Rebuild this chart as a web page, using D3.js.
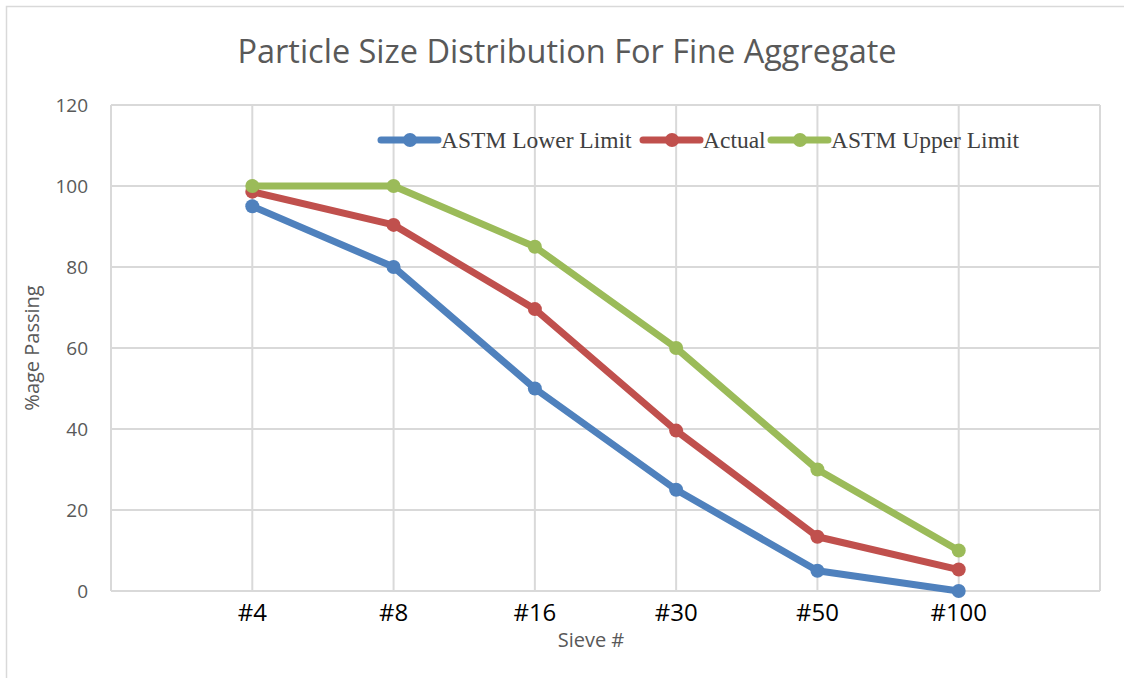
<!DOCTYPE html>
<html>
<head>
<meta charset="utf-8">
<script src="https://cdn.jsdelivr.net/npm/d3@7"></script>
<style>
  body { margin: 0; background: #fff; }
  svg { display: block; }
</style>
</head>
<body>
<svg id="chart" width="1124" height="678"></svg>
<script>
var sieves = ["#4", "#8", "#16", "#30", "#50", "#100"];
var lowerLimit = [95, 80, 50, 25, 5, 0];
var actual = [98.6, 90.4, 69.6, 39.6, 13.4, 5.3];
var upperLimit = [100, 100, 85, 60, 30, 10];
var yTicks = [0, 20, 40, 60, 80, 100, 120];

var series = [
  { name: "ASTM Lower Limit", values: lowerLimit, color: "#4f81bd" },
  { name: "Actual", values: actual, color: "#c0504d" },
  { name: "ASTM Upper Limit", values: upperLimit, color: "#9bbb59" }
];

var svg = d3.select("#chart");

// outer chart frame
svg.append("rect")
  .attr("x", 6.5).attr("y", 6.5)
  .attr("width", 1130).attr("height", 690)
  .attr("fill", "none").attr("stroke", "#d9d9d9").attr("stroke-width", 1.5);

var plotLeft = 111, plotRight = 1100, plotTop = 105, plotBottom = 591;

// one empty slot each side of the categories
var x = d3.scaleLinear().domain([0, sieves.length + 1]).range([plotLeft, plotRight]);
var y = d3.scaleLinear().domain([0, 120]).range([plotBottom, plotTop]);

var grid = svg.append("g");
grid.selectAll("line.h")
  .data(yTicks)
  .enter().append("line")
  .attr("x1", plotLeft).attr("x2", plotRight)
  .attr("y1", function (d) { return y(d); })
  .attr("y2", function (d) { return y(d); })
  .attr("stroke", "#d9d9d9").attr("stroke-width", 2);

grid.selectAll("line.v")
  .data(d3.range(0, sieves.length + 2))
  .enter().append("line")
  .attr("x1", function (d) { return x(d); })
  .attr("x2", function (d) { return x(d); })
  .attr("y1", plotTop).attr("y2", plotBottom)
  .attr("stroke", "#d9d9d9").attr("stroke-width", 2);

// y tick labels
svg.selectAll("text.ytick")
  .data(yTicks)
  .enter().append("text")
  .attr("x", 88)
  .attr("y", function (d) { return y(d) + 7; })
  .attr("text-anchor", "end")
  .attr("font-family", "Open Sans, sans-serif")
  .attr("font-size", 19)
  .attr("fill", "#595959")
  .text(function (d) { return d; });

// x tick labels
svg.selectAll("text.xtick")
  .data(sieves)
  .enter().append("text")
  .attr("x", function (d, i) { return x(i + 1); })
  .attr("y", 621)
  .attr("text-anchor", "middle")
  .attr("font-family", "Open Sans, sans-serif")
  .attr("font-size", 24)
  .attr("fill", "#000")
  .text(function (d) { return d; });

// series lines and markers
var line = d3.line()
  .x(function (d, i) { return x(i + 1); })
  .y(function (d) { return y(d); });

series.forEach(function (s) {
  svg.append("path")
    .datum(s.values)
    .attr("d", line)
    .attr("fill", "none")
    .attr("stroke", s.color)
    .attr("stroke-width", 7)
    .attr("stroke-linejoin", "round")
    .attr("stroke-linecap", "round");

  svg.selectAll(null)
    .data(s.values)
    .enter().append("circle")
    .attr("cx", function (d, i) { return x(i + 1); })
    .attr("cy", function (d) { return y(d); })
    .attr("r", 7)
    .attr("fill", s.color);
});

// title
svg.append("text")
  .attr("x", 567).attr("y", 63)
  .attr("text-anchor", "middle")
  .attr("font-family", "Open Sans, sans-serif")
  .attr("font-size", 33)
  .attr("fill", "#595959")
  .attr("textLength", 659)
  .attr("lengthAdjust", "spacingAndGlyphs")
  .text("Particle Size Distribution For Fine Aggregate");

// axis titles
svg.append("text")
  .attr("x", 591).attr("y", 647)
  .attr("text-anchor", "middle")
  .attr("font-family", "Open Sans, sans-serif")
  .attr("font-size", 20)
  .attr("fill", "#595959")
  .text("Sieve #");

svg.append("text")
  .attr("transform", "translate(39,348) rotate(-90)")
  .attr("text-anchor", "middle")
  .attr("font-family", "Open Sans, sans-serif")
  .attr("font-size", 20)
  .attr("fill", "#595959")
  .text("%age Passing");

// legend
var legendPos = [381, 643, 771];
var legend = svg.selectAll("g.legend")
  .data(series)
  .enter().append("g")
  .attr("transform", function (d, i) { return "translate(" + legendPos[i] + ",140)"; });

legend.append("line")
  .attr("x1", 0).attr("x2", 57)
  .attr("stroke", function (d) { return d.color; })
  .attr("stroke-width", 7)
  .attr("stroke-linecap", "round");

legend.append("circle")
  .attr("cx", 29).attr("r", 7)
  .attr("fill", function (d) { return d.color; });

legend.append("text")
  .attr("x", 60).attr("y", 8)
  .attr("font-family", "Liberation Serif, Times New Roman, serif")
  .attr("font-size", 23.5)
  .attr("fill", "#404040")
  .text(function (d) { return d.name; });
</script>
</body>
</html>
